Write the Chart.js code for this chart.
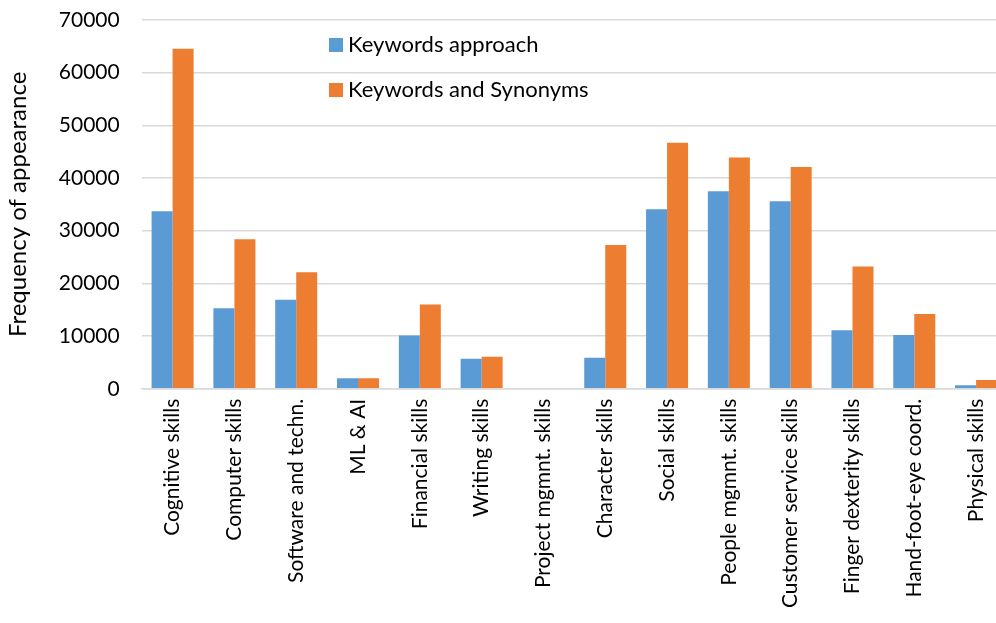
<!DOCTYPE html>
<html>
<head>
<meta charset="utf-8">
<script src="https://cdn.jsdelivr.net/npm/chart.js@4"></script>
<style>
  html, body { margin: 0; padding: 0; background: #fff; overflow: hidden; }
  #wrap { width: 996px; height: 623px; overflow: hidden; }
</style>
</head>
<body>
<!-- the original plot runs past the right edge, so the canvas is a bit wider than the window -->
<div id="wrap"><canvas id="skillsChart" width="1008" height="623"></canvas></div>
<script>
const categories = [
    'Cognitive skills', 'Computer skills', 'Software and techn.', 'ML & AI',
    'Financial skills', 'Writing skills', 'Project mgmnt. skills', 'Character skills',
    'Social skills', 'People mgmnt. skills', 'Customer service skills',
    'Finger dexterity skills', 'Hand-foot-eye coord.', 'Physical skills'
];
const keywordsApproach = [33700, 15300, 16900, 2000, 10100, 5700, 0, 5900, 34100, 37500, 35600, 11100, 10200, 650];
const keywordsSynonyms = [64550, 28400, 22100, 2000, 16000, 6100, 0, 27300, 46700, 43900, 42100, 23200, 14200, 1650];
const seriesNames = ['Keywords approach', 'Keywords and Synonyms'];
const seriesColors = ['#5B9BD5', '#ED7D31'];

const FONT = 'Lato, "Open Sans", sans-serif';

// legend sits inside the plot, so draw it by hand
const insideLegend = {
    id: 'insideLegend',
    afterDraw(chart) {
        const c = chart.ctx;
        c.save();
        c.font = '22px ' + FONT;
        c.textBaseline = 'middle';
        chart.data.datasets.forEach((ds, i) => {
            const y = 45 + i * 45;
            c.fillStyle = ds.backgroundColor;
            c.fillRect(329, y - 7, 14, 14);
            c.fillStyle = '#000';
            c.fillText(ds.label, 348, y);
        });
        c.restore();
    }
};

new Chart(document.getElementById('skillsChart').getContext('2d'), {
    type: 'bar',
    data: {
        labels: categories,
        datasets: [
            { label: seriesNames[0], data: keywordsApproach, backgroundColor: seriesColors[0] },
            { label: seriesNames[1], data: keywordsSynonyms, backgroundColor: seriesColors[1] }
        ]
    },
    options: {
        responsive: false,
        animation: false,
        layout: { padding: { top: 0, right: 1, left: 0, bottom: 5 } },
        datasets: { bar: { categoryPercentage: 0.68, barPercentage: 1.0 } },
        plugins: { legend: { display: false }, tooltip: { enabled: false } },
        scales: {
            x: {
                grid: { display: false, drawTicks: false },
                border: { color: '#d9d9d9', width: 1.5 },
                ticks: {
                    color: '#000', font: { family: FONT, size: 21 },
                    minRotation: 90, maxRotation: 90, autoSkip: false, padding: 10
                },
                afterFit: s => { s.paddingRight = 0; }
            },
            y: {
                min: 0, max: 70000,
                grid: { color: '#d9d9d9', lineWidth: 1.5, drawTicks: false },
                border: { display: false },
                ticks: {
                    stepSize: 10000, color: '#000', font: { family: FONT, size: 21 }, padding: 22,
                    callback: v => String(v)
                },
                title: { display: true, text: 'Frequency of appearance', color: '#000', font: { family: FONT, size: 24 } },
                afterFit: s => { s.paddingTop = 20; s.paddingBottom = 0; }
            }
        }
    },
    plugins: [insideLegend]
});
</script>
</body>
</html>
